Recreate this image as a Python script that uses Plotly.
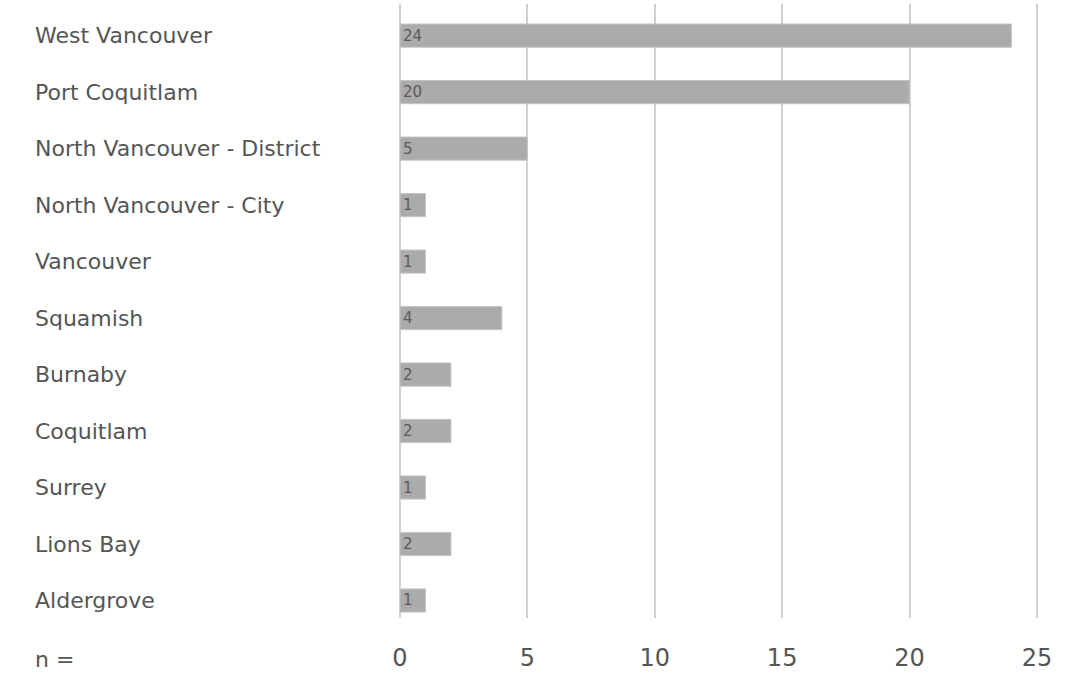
import plotly.graph_objects as go

categories = ["West Vancouver", "Port Coquitlam", "North Vancouver - District",
              "North Vancouver - City", "Vancouver", "Squamish", "Burnaby",
              "Coquitlam", "Surrey", "Lions Bay", "Aldergrove"]
values = [24, 20, 5, 1, 1, 4, 2, 2, 1, 2, 1]
tick_vals = [0, 5, 10, 15, 20, 25]
axis_label = "n ="

FONT = "DejaVu Sans"
TXT = "#555555"

fig = go.Figure()
fig.add_trace(go.Bar(
    y=categories, x=values, orientation="h",
    width=0.41,
    marker=dict(color="#ababab", line=dict(color="#c4c4c4", width=1)),
    text=[str(v) for v in values],
    textposition="inside", insidetextanchor="start", textangle=0,
    constraintext="none",
    textfont=dict(family=FONT, size=15, color="#5a5a5a"),
    cliponaxis=False,
    hoverinfo="skip",
))

L, R = 400, 49
plot_w = 1091 - L - R
x_max = 25.2

for c in categories:
    fig.add_annotation(
        x=-(L - 33) / plot_w, xref="paper", y=c, yref="y",
        text=c, showarrow=False, xanchor="left", yanchor="middle",
        font=dict(family=FONT, size=22, color=TXT),
    )

fig.add_annotation(
    x=-(L - 33) / plot_w, xref="paper", y=-41 / 614, yref="paper",
    text=axis_label, showarrow=False, xanchor="left", yanchor="middle",
    font=dict(family=FONT, size=22, color=TXT),
)

fig.update_layout(
    width=1091, height=675,
    margin=dict(l=L, r=R, t=4, b=57),
    plot_bgcolor="white", paper_bgcolor="white",
    showlegend=False,
    xaxis=dict(
        range=[0, x_max], tickvals=tick_vals,
        showgrid=True, gridcolor="#d0d0d0", gridwidth=2,
        zeroline=True, zerolinecolor="#d0d0d0", zerolinewidth=2,
        showline=False, ticks="",
        tickfont=dict(family=FONT, size=24, color=TXT),
        ticklabelstandoff=23,
    ),
    yaxis=dict(
        categoryorder="array", categoryarray=categories,
        range=[10.31, -0.56],
        showticklabels=False, showgrid=False, zeroline=False, ticks="",
    ),
)

fig.write_html("out.html", config={"displayModeBar": False},
               post_script="document.body.style.margin='0';")
